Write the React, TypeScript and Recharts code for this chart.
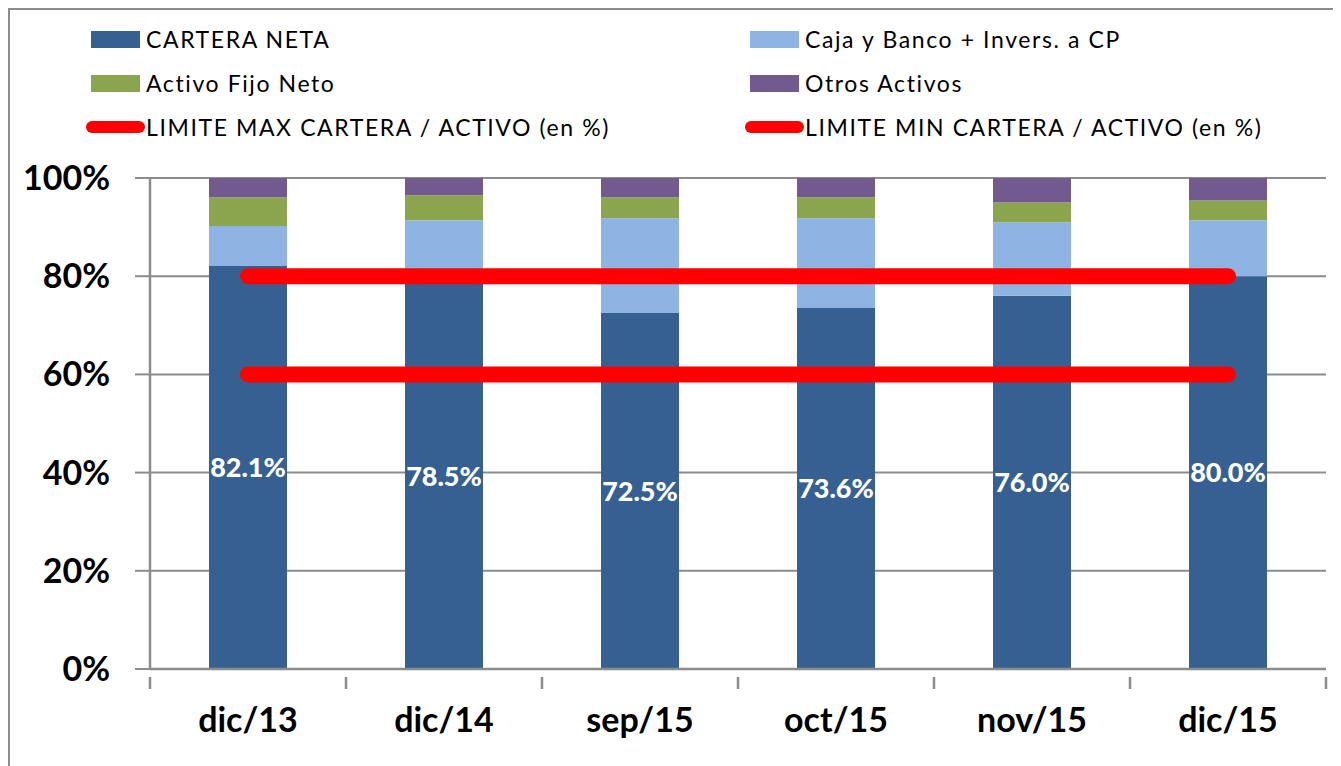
import React from "react";
import {
  ComposedChart,
  Bar,
  Line,
  XAxis,
  YAxis,
  CartesianGrid,
  LabelList,
} from "recharts";

const categories = ["dic/13", "dic/14", "sep/15", "oct/15", "nov/15", "dic/15"];
const carteraNeta = [82.1, 78.5, 72.5, 73.6, 76.0, 80.0];
const cajaBanco = [8.1, 12.9, 19.3, 18.2, 15.0, 11.4];
const activoFijo = [5.9, 5.1, 4.3, 4.3, 4.0, 4.0];
const otrosActivos = [3.9, 3.5, 3.9, 3.9, 5.0, 4.6];
const limiteMax = [80, 80, 80, 80, 80, 80];
const limiteMin = [60, 60, 60, 60, 60, 60];
const yTicks = [0, 20, 40, 60, 80, 100];

const data = categories.map((name, i) => ({
  name,
  cartera: carteraNeta[i],
  caja: cajaBanco[i],
  fijo: activoFijo[i],
  otros: otrosActivos[i],
  max: limiteMax[i],
  min: limiteMin[i],
}));

const COLORS = {
  cartera: "#376092",
  caja: "#8eb4e3",
  fijo: "#8ba54f",
  otros: "#725a8f",
  red: "#ff0000",
  axis: "#8c8c8c",
};

const FONT = "Lato, 'Open Sans', sans-serif";

const CHART_W = 1330;
const CHART_H = 756;
const MARGIN = { top: 168, right: 14, left: 0, bottom: 37 };
const Y_W = 140;
const BAND = (CHART_W - MARGIN.right - MARGIN.left - Y_W) / categories.length;

const XTick = (props: any) => {
  const { x, y, payload, index } = props;
  const last = index === categories.length - 1;
  return (
    <g>
      <line x1={x - BAND / 2} y1={y} x2={x - BAND / 2} y2={y + 12} stroke={COLORS.axis} strokeWidth={2.5} />
      {last && (
        <line x1={x + BAND / 2} y1={y} x2={x + BAND / 2} y2={y + 12} stroke={COLORS.axis} strokeWidth={2.5} />
      )}
      <text
        x={x}
        y={y + 46}
        textAnchor="middle"
        dominantBaseline="middle"
        fontFamily={FONT}
        fontWeight={700}
        fontSize={34}
        fill="#000"
      >
        {payload.value}
      </text>
    </g>
  );
};

const legendItems = [
  { label: "CARTERA NETA", color: COLORS.cartera, type: "rect", col: 0, row: 0 },
  { label: "Caja y Banco + Invers. a CP", color: COLORS.caja, type: "rect", col: 1, row: 0 },
  { label: "Activo Fijo Neto", color: COLORS.fijo, type: "rect", col: 0, row: 1 },
  { label: "Otros Activos", color: COLORS.otros, type: "rect", col: 1, row: 1 },
  { label: "LIMITE MAX CARTERA / ACTIVO (en %)", color: COLORS.red, type: "line", col: 0, row: 2 },
  { label: "LIMITE MIN CARTERA / ACTIVO (en %)", color: COLORS.red, type: "line", col: 1, row: 2 },
];

const colX = [81, 740];
const rowY = [29, 73, 117];

export default function App() {
  return (
    <div
      style={{
        position: "relative",
        width: CHART_W,
        height: 770,
        border: `2px solid ${COLORS.axis}`,
        borderBottom: "none",
        background: "#fff",
        fontFamily: FONT,
      }}
    >
      {legendItems.map((it) => (
        <div
          key={it.label}
          style={{
            position: "absolute",
            left: colX[it.col],
            top: rowY[it.row] - 15,
            height: 30,
            display: "flex",
            alignItems: "center",
            whiteSpace: "nowrap",
          }}
        >
          {it.type === "rect" ? (
            <span style={{ display: "inline-block", width: 49, height: 17, background: it.color }} />
          ) : (
            <span
              style={{
                display: "inline-block",
                width: 59,
                height: 12,
                borderRadius: 6,
                background: it.color,
                marginLeft: -5,
              }}
            />
          )}
          <span
            style={{
              marginLeft: it.type === "rect" ? 6 : 1,
              fontSize: 23,
              letterSpacing: 1.6,
              color: "#000",
            }}
          >
            {it.label}
          </span>
        </div>
      ))}
      <ComposedChart width={CHART_W} height={CHART_H} data={data} margin={MARGIN}>
        <CartesianGrid horizontal vertical={false} stroke={COLORS.axis} strokeWidth={2} />
        <XAxis
          dataKey="name"
          height={60}
          tick={<XTick />}
          tickLine={false}
          axisLine={{ stroke: COLORS.axis, strokeWidth: 2.5 }}
          interval={0}
        />
        <YAxis
          width={Y_W}
          domain={[0, 100]}
          ticks={yTicks}
          tickFormatter={(v: number) => `${v}%`}
          tickSize={15}
          tickMargin={25}
          tickLine={{ stroke: COLORS.axis, strokeWidth: 2 }}
          axisLine={{ stroke: COLORS.axis, strokeWidth: 2.5 }}
          tick={{ fontFamily: FONT, fontWeight: 700, fontSize: 34, fill: "#000" }}
        />
        <Bar dataKey="cartera" stackId="a" fill={COLORS.cartera} barSize={78} isAnimationActive={false}>
          <LabelList
            dataKey="cartera"
            position="center"
            fill="#fff"
            fontFamily={FONT}
            fontWeight={900}
            fontSize={27}
            style={{ fontWeight: 900 }}
            formatter={(v: any) => `${Number(v).toFixed(1)}%`}
          />
        </Bar>
        <Bar dataKey="caja" stackId="a" fill={COLORS.caja} barSize={78} isAnimationActive={false} />
        <Bar dataKey="fijo" stackId="a" fill={COLORS.fijo} barSize={78} isAnimationActive={false} />
        <Bar dataKey="otros" stackId="a" fill={COLORS.otros} barSize={78} isAnimationActive={false} />
        <Line
          dataKey="max"
          stroke={COLORS.red}
          strokeWidth={16}
          strokeLinecap="round"
          dot={false}
          activeDot={false}
          isAnimationActive={false}
        />
        <Line
          dataKey="min"
          stroke={COLORS.red}
          strokeWidth={16}
          strokeLinecap="round"
          dot={false}
          activeDot={false}
          isAnimationActive={false}
        />
      </ComposedChart>
    </div>
  );
}
